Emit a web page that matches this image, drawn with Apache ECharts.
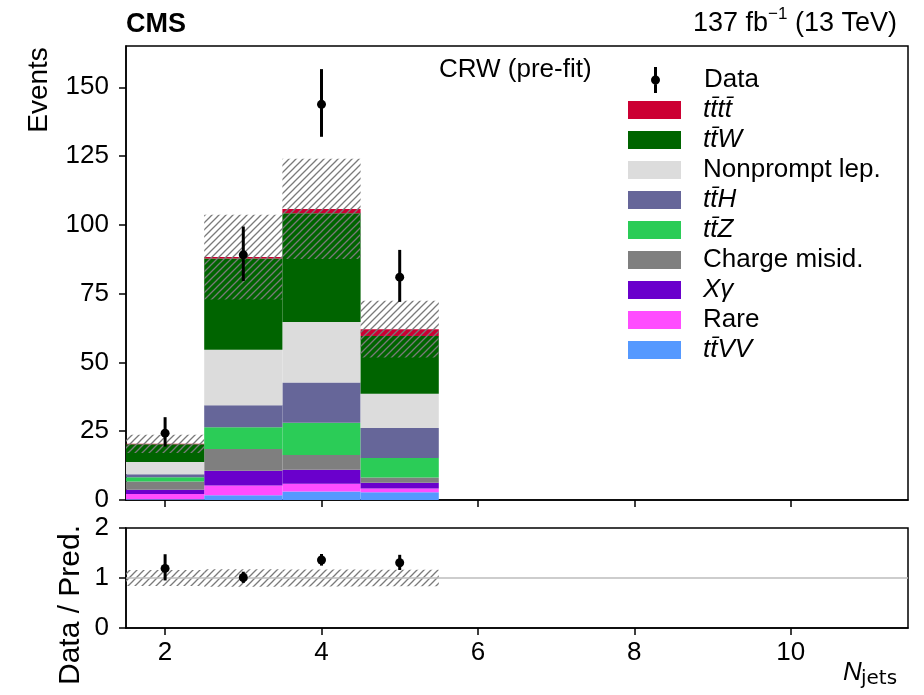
<!DOCTYPE html>
<html>
<head>
<meta charset="utf-8">
<script src="https://cdn.jsdelivr.net/npm/echarts@6/dist/echarts.min.js"></script>
<style>
  html, body { margin: 0; padding: 0; background: #fff; }
  #chart { width: 924px; height: 695px; }
</style>
</head>
<body>
<div id="chart"></div>
<script>
// N_jets bins (centres), bin width 1
const bins = [2, 3, 4, 5]

// process yields per bin, legend order (top of stack first)
const tttt = [0.1, 0.5, 1.6, 2.5]
const ttW = [6.5, 33.2, 39.5, 21.0]
const nonprompt = [4.4, 20.2, 22.0, 12.4]
const ttH = [1.1, 8.0, 14.6, 10.9]
const ttZ = [1.6, 7.9, 11.7, 7.1]
const chargeMisid = [3.0, 7.9, 5.4, 1.9]
const xGamma = [1.5, 5.3, 5.1, 2.1]
const rare = [1.9, 3.6, 2.8, 1.4]
const ttVV = [0.3, 1.7, 3.1, 2.8]

// total prediction uncertainty (half width)
const predUnc = [3.3, 15.4, 18.2, 10.3]

// observed data with error bar ends
const dataObs = [24.3, 89.1, 143.8, 81.0]
const dataLo = [19.4, 79.6, 132.0, 72.0]
const dataHi = [30.1, 99.4, 156.6, 90.9]

const yTicks = [0, 25, 50, 75, 100, 125, 150]
const xTicks = [2, 4, 6, 8, 10]

const processes = [
  { name: 'tt\u0304tt\u0304', values: tttt, color: '#cc0033', italic: true },
  { name: 'tt\u0304W', values: ttW, color: '#006400', italic: true },
  { name: 'Nonprompt lep.', values: nonprompt, color: '#dcdcdc', italic: false },
  { name: 'tt\u0304H', values: ttH, color: '#666699', italic: true },
  { name: 'tt\u0304Z', values: ttZ, color: '#2bcc57', italic: true },
  { name: 'Charge misid.', values: chargeMisid, color: '#7f7f7f', italic: false },
  { name: 'X\u03b3', values: xGamma, color: '#6a00cc', italic: true },
  { name: 'Rare', values: rare, color: '#ff4dff', italic: false },
  { name: 'tt\u0304VV', values: ttVV, color: '#5599ff', italic: true },
]

const FONT = 'Liberation Sans'

function makeHatch() {
  const c = document.createElement('canvas')
  c.width = 7
  c.height = 7
  const g = c.getContext('2d')
  g.strokeStyle = '#7a7a7a'
  g.lineWidth = 1.3
  g.beginPath()
  g.moveTo(0, 7); g.lineTo(7, 0)
  g.moveTo(-1, 1); g.lineTo(1, -1)
  g.moveTo(6, 8); g.lineTo(8, 6)
  g.stroke()
  return c
}
const hatch = { image: makeHatch(), repeat: 'repeat' }

// stacked histogram layers, bottom-up
const stackBase = bins.map(() => 0)
const stackSeries = processes.slice().reverse().map(p => {
  const data = bins.map((b, i) => {
    const lo = stackBase[i]
    stackBase[i] += p.values[i]
    return [b, lo, stackBase[i]]
  })
  return {
    name: p.name,
    type: 'custom',
    xAxisIndex: 0,
    yAxisIndex: 0,
    itemStyle: { color: p.color },
    data,
    renderItem: (params, api) => {
      const x = api.value(0)
      const a = api.coord([x - 0.5, api.value(2)])
      const b = api.coord([x + 0.5, api.value(1)])
      return {
        type: 'rect',
        shape: { x: a[0], y: a[1], width: b[0] - a[0], height: b[1] - a[1] },
        style: { fill: api.visual('color') },
      }
    },
  }
})
const totals = stackBase.slice()

function bandRender(params, api) {
  const x = api.value(0)
  const a = api.coord([x - 0.5, api.value(2)])
  const b = api.coord([x + 0.5, api.value(1)])
  return {
    type: 'rect',
    shape: { x: a[0], y: a[1], width: b[0] - a[0], height: b[1] - a[1] },
    style: { fill: hatch },
  }
}

function pointRender(params, api) {
  const x = api.value(0)
  const c = api.coord([x, api.value(1)])
  const lo = api.coord([x, api.value(2)])
  const hi = api.coord([x, api.value(3)])
  return {
    type: 'group',
    children: [
      { type: 'line', shape: { x1: lo[0], y1: lo[1], x2: hi[0], y2: hi[1] }, style: { stroke: '#000', lineWidth: 3 } },
      { type: 'circle', shape: { cx: c[0], cy: c[1], r: 4.5 }, style: { fill: '#000' } },
    ],
  }
}

const rich = {
  g: { width: 17, fontSize: 26 },
  it: { fontFamily: FONT, fontStyle: 'italic', fontSize: 26, color: '#000' },
  rm: { fontFamily: FONT, fontSize: 26, color: '#000' },
}

const chart = echarts.init(document.getElementById('chart'), null, { renderer: 'canvas' })

chart.setOption({
  animation: false,
  textStyle: { fontFamily: FONT, color: '#000' },
  grid: [
    { left: 126, top: 46, width: 782, height: 454, show: true, borderColor: '#000', borderWidth: 1.5, backgroundColor: 'transparent' },
    { left: 126, top: 528, width: 782, height: 100, show: true, borderColor: '#000', borderWidth: 1.5, backgroundColor: 'transparent' },
  ],
  xAxis: [
    {
      type: 'value', gridIndex: 0, min: 1.5, max: 11.5,
      axisLine: { lineStyle: { color: '#000', width: 1.5 } },
      axisTick: { customValues: xTicks, length: 7, lineStyle: { color: '#000', width: 1.5 } },
      axisLabel: { show: false },
      splitLine: { show: false },
    },
    {
      type: 'value', gridIndex: 1, min: 1.5, max: 11.5,
      axisLine: { lineStyle: { color: '#000', width: 1.5 } },
      axisTick: { customValues: xTicks, length: 7, lineStyle: { color: '#000', width: 1.5 } },
      axisLabel: { customValues: xTicks, fontSize: 26, color: '#000', margin: 12, fontFamily: FONT },
      splitLine: { show: false },
    },
  ],
  yAxis: [
    {
      type: 'value', gridIndex: 0, min: 0, max: 165,
      axisLine: { show: true, lineStyle: { color: '#000', width: 1.5 } },
      axisTick: { show: true, customValues: yTicks, length: 7, lineStyle: { color: '#000', width: 1.5 } },
      axisLabel: { customValues: yTicks, fontSize: 26, color: '#000', margin: 17, fontFamily: FONT },
      splitLine: { show: false },
    },
    {
      type: 'value', gridIndex: 1, min: 0, max: 2, interval: 1,
      axisLine: { show: true, lineStyle: { color: '#000', width: 1.5 } },
      axisTick: { show: true, length: 7, lineStyle: { color: '#000', width: 1.5 } },
      axisLabel: { fontSize: 26, color: '#000', margin: 17, fontFamily: FONT },
      splitLine: { show: false },
    },
  ],
  legend: [
    {
      data: ['Data'],
      orient: 'vertical',
      left: 651,
      top: 67,
      padding: 0,
      itemWidth: 53,
      itemHeight: 26,
      selectedMode: false,
      icon: 'path://M-1.5,-13H1.5V13H-1.5Z M0,-4.5A4.5,4.5,0,1,1,0,4.5A4.5,4.5,0,1,1,0,-4.5Z',
      formatter: name => '{g|}{rm|' + name + '}',
      textStyle: { rich },
    },
    {
      data: processes.map(p => p.name),
      orient: 'vertical',
      left: 628,
      top: 97,
      padding: 0,
      itemWidth: 53,
      itemHeight: 18,
      itemGap: 4,
      icon: 'rect',
      selectedMode: false,
      formatter: name => {
        const p = processes.find(q => q.name === name)
        return '{g|}{' + (p.italic ? 'it' : 'rm') + '|' + name + '}'
      },
      textStyle: { rich },
    },
  ],
  graphic: [
    { type: 'text', left: 126, top: 11, style: { text: 'CMS', font: 'bold 27px "Liberation Sans"', fill: '#000' } },
    {
      type: 'text', right: 27, top: 6,
      style: {
        text: '{n|137 fb}{s|\u22121}{n| (13 TeV)}',
        rich: {
          n: { fontFamily: FONT, fontSize: 27, lineHeight: 31, verticalAlign: 'bottom', color: '#000' },
          s: { fontFamily: FONT, fontSize: 17, lineHeight: 31, verticalAlign: 'top', color: '#000' },
        },
      },
    },
    { type: 'text', left: 439, top: 57, style: { text: 'CRW (pre-fit)', font: '26px "Liberation Sans"', fill: '#000' } },
    {
      type: 'text', x: 39, y: 90, rotation: Math.PI / 2,
      style: { text: 'Events', font: '28px "Liberation Sans"', fill: '#000', align: 'center', verticalAlign: 'middle' },
    },
    {
      type: 'text', x: 71, y: 605, rotation: Math.PI / 2,
      style: { text: 'Data / Pred.', font: '30px "Liberation Sans"', fill: '#000', align: 'center', verticalAlign: 'middle' },
    },
    { type: 'text', left: 843, top: 660, style: { text: 'N', font: 'italic 26px "Liberation Sans"', fill: '#000' } },
    { type: 'text', left: 861, top: 669, style: { text: 'jets', font: '20px "DejaVu Sans"', fill: '#000' } },
  ],
  series: [
    ...stackSeries,
    {
      name: 'unc',
      type: 'custom',
      xAxisIndex: 0,
      yAxisIndex: 0,
      data: bins.map((b, i) => [b, totals[i] - predUnc[i], totals[i] + predUnc[i]]),
      renderItem: bandRender,
      z: 3,
    },
    {
      name: 'Data',
      type: 'custom',
      xAxisIndex: 0,
      yAxisIndex: 0,
      itemStyle: { color: '#000' },
      data: bins.map((b, i) => [b, dataObs[i], dataLo[i], dataHi[i]]),
      renderItem: pointRender,
      z: 4,
    },
    {
      name: 'ratioLine',
      type: 'line',
      xAxisIndex: 1,
      yAxisIndex: 1,
      data: [[1.5, 1], [11.5, 1]],
      symbol: 'none',
      lineStyle: { color: '#bdbdbd', width: 1.5 },
      silent: true,
    },
    {
      name: 'ratioUnc',
      type: 'custom',
      xAxisIndex: 1,
      yAxisIndex: 1,
      data: bins.map((b, i) => [b, 1 - predUnc[i] / totals[i], 1 + predUnc[i] / totals[i]]),
      renderItem: bandRender,
      z: 3,
    },
    {
      name: 'ratioData',
      type: 'custom',
      xAxisIndex: 1,
      yAxisIndex: 1,
      data: bins.map((b, i) => [b, dataObs[i] / totals[i], dataLo[i] / totals[i], dataHi[i] / totals[i]]),
      renderItem: pointRender,
      z: 4,
    },
  ],
})
</script>
</body>
</html>
